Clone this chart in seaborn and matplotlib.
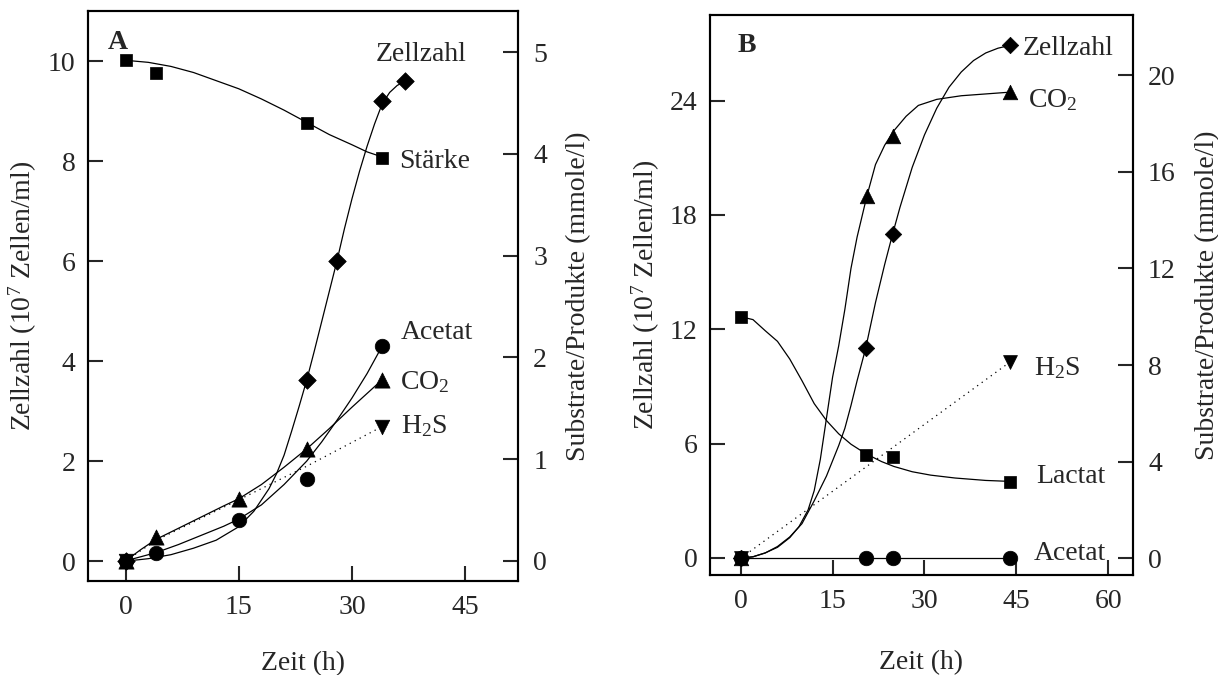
import matplotlib
matplotlib.use('Agg')
import matplotlib.pyplot as plt
import seaborn as sns

# ── Panel A (Stärke-Kultur) ─────────────────────────────────────────────
A_ZELL_T = [0, 24, 28, 34, 37]
A_ZELL = [0, 3.63, 6.0, 9.2, 9.6]
A_ZELL_CURVE_T = [0, 3, 6, 9, 12, 15, 17, 19, 20, 21, 22, 23, 24, 25, 26, 27, 28,
                  29, 30, 31, 32, 33, 34, 35, 36, 37]
A_ZELL_CURVE = [0, 0.05, 0.13, 0.26, 0.42, 0.69, 1.0, 1.45, 1.75, 2.12, 2.6, 3.1,
                3.62, 4.2, 4.8, 5.4, 6.0, 6.65, 7.25, 7.8, 8.3, 8.75, 9.15, 9.38,
                9.52, 9.6]

A_STAERKE_T = [0, 4, 24, 34]
A_STAERKE = [4.92, 4.80, 4.30, 3.96]
A_STAERKE_CURVE_T = [0, 3, 6, 9, 12, 15, 18, 21, 24, 27, 30, 32, 34]
A_STAERKE_CURVE = [4.92, 4.90, 4.86, 4.80, 4.72, 4.64, 4.54, 4.43, 4.31, 4.19,
                   4.09, 4.02, 3.97]

A_ACETAT_T = [0, 4, 15, 24, 34]
A_ACETAT = [0, 0.08, 0.40, 0.80, 2.11]
A_ACETAT_CURVE_T = [0, 2, 4, 7, 10, 13, 15, 18, 21, 24, 26, 28, 30, 32, 34]
A_ACETAT_CURVE = [0, 0.04, 0.08, 0.16, 0.25, 0.34, 0.41, 0.55, 0.75, 0.98, 1.17,
                  1.38, 1.6, 1.84, 2.11]

A_CO2_T = [0, 4, 15, 24, 34]
A_CO2 = [0, 0.23, 0.61, 1.10, 1.78]
A_CO2_CURVE_T = [0, 2, 4, 7, 10, 13, 15, 18, 21, 24, 27, 30, 34]
A_CO2_CURVE = [0, 0.11, 0.21, 0.32, 0.43, 0.54, 0.61, 0.75, 0.92, 1.10, 1.3,
               1.51, 1.78]

A_H2S_T = [0, 34]
A_H2S = [0, 1.32]
A_H2S_LINE_T = [0, 4, 15, 24, 34]
A_H2S_LINE = [0, 0.2, 0.6, 0.93, 1.32]

# ── Panel B (Lactat-Kultur) ─────────────────────────────────────────────
B_ZELL_T = [0, 20.4, 24.8, 44]
B_ZELL = [0, 11.0, 17.0, 26.9]
B_ZELL_CURVE_T = [0, 2, 4, 6, 8, 10, 12, 14, 16, 17, 18, 19, 20.4, 22, 23.5, 24.8,
                  26, 28, 30, 32, 34, 36, 38, 40, 42, 44]
B_ZELL_CURVE = [0, 0.06, 0.26, 0.6, 1.1, 1.8, 3.0, 4.3, 5.9, 6.8, 8.0, 9.3, 11.0,
                13.4, 15.4, 17.0, 18.4, 20.5, 22.2, 23.6, 24.7, 25.5, 26.1, 26.5,
                26.75, 26.9]

B_CO2_T = [0, 20.6, 24.8, 44]
B_CO2 = [0, 15.0, 17.5, 19.3]
B_CO2_CURVE_T = [0, 2, 4, 6, 8, 9.5, 11, 12, 13, 14, 15, 16, 17, 18, 19, 20.6, 22,
                 23.5, 25, 27, 29, 32, 36, 44]
B_CO2_CURVE = [0, 0.06, 0.22, 0.45, 0.85, 1.3, 2.0, 2.8, 4.1, 5.8, 7.5, 8.8, 10.3,
               12.0, 13.3, 15.0, 16.3, 17.1, 17.7, 18.3, 18.75, 19.0, 19.15, 19.3]

B_LACTAT_T = [0, 20.4, 24.9, 44]
B_LACTAT = [10.0, 4.27, 4.18, 3.16]
B_LACTAT_CURVE_T = [0, 2, 4, 6, 8, 10, 12, 14, 16, 18, 20.4, 23, 25, 28, 31, 35,
                    40, 44]
B_LACTAT_CURVE = [10.0, 9.88, 9.42, 8.98, 8.25, 7.35, 6.4, 5.7, 5.15, 4.72, 4.33,
                  4.0, 3.8, 3.58, 3.44, 3.32, 3.22, 3.18]

B_ACETAT_T = [0, 20.4, 24.9, 44]
B_ACETAT = [0, 0, 0, 0]

B_H2S_T = [0, 44]
B_H2S = [0, 8.13]

FS = 20
LW = 0.9


def setup_style():
    sns.set_theme(style='ticks')
    plt.rcParams.update({
        'font.family': ['Liberation Serif', 'DejaVu Serif'],
        'mathtext.fontset': 'custom',
        'mathtext.rm': 'Liberation Serif',
        'mathtext.it': 'Liberation Serif:italic',
        'mathtext.bf': 'Liberation Serif:bold',
        'font.size': FS, 'axes.labelsize': FS,
        'xtick.labelsize': FS, 'ytick.labelsize': FS,
        'xtick.direction': 'in', 'ytick.direction': 'in',
        'axes.linewidth': 1.5, 'axes.edgecolor': 'black',
        'figure.facecolor': 'white', 'axes.facecolor': 'white',
        'lines.solid_joinstyle': 'round',
    })


def curve(ax, t, y, dotted=False):
    sns.lineplot(x=t, y=y, ax=ax, color='black', lw=LW, sort=False,
                 estimator=None, zorder=3)
    if dotted:
        ax.lines[-1].set_linestyle((0, (1, 3.5)))


def points(ax, t, y, marker, s):
    sns.scatterplot(x=t, y=y, ax=ax, marker=marker, s=s, color='black',
                    edgecolor='black', linewidth=0.5, zorder=5, legend=False)


def style_axes(ax, ax2, xticks, yl, yr, xlim, ylim_l, ylim_r, xpad):
    ax.set_xlim(*xlim)
    ax.set_ylim(*ylim_l)
    ax2.set_ylim(*ylim_r)
    ax.set_xticks(xticks)
    ax.set_yticks(yl)
    ax2.set_yticks(yr)
    ax.tick_params(axis='x', direction='in', length=11, width=1.5, pad=10, top=False)
    ax.tick_params(axis='y', direction='in', length=11, width=1.5, pad=9, right=False)
    ax2.tick_params(axis='y', direction='in', length=11, width=1.5, pad=11)
    for a in (ax, ax2):
        for sp in a.spines.values():
            sp.set_visible(True)
            sp.set_linewidth(1.5)
    ax.set_xlabel('Zeit (h)', labelpad=xpad)
    ax.set_ylabel(r'Zellzahl (10$^{7}$ Zellen/ml)', labelpad=6)
    ax2.set_ylabel('Substrate/Produkte (mmole/l)', labelpad=14)


def label(ax, x, y, txt):
    ax.text(x, y, txt, ha='left', va='center_baseline', fontsize=FS, zorder=6)


def panel_a(fig):
    ax = fig.add_axes([0.0722, 0.139, 0.353, 0.844])
    ax2 = ax.twinx()
    curve(ax, A_ZELL_CURVE_T, A_ZELL_CURVE)
    curve(ax2, A_STAERKE_CURVE_T, A_STAERKE_CURVE)
    curve(ax2, A_ACETAT_CURVE_T, A_ACETAT_CURVE)
    curve(ax2, A_CO2_CURVE_T, A_CO2_CURVE)
    curve(ax2, A_H2S_LINE_T, A_H2S_LINE, dotted=True)
    points(ax, A_ZELL_T, A_ZELL, 'D', 80)
    points(ax2, A_STAERKE_T, A_STAERKE, 's', 75)
    points(ax2, A_ACETAT_T, A_ACETAT, 'o', 110)
    points(ax2, A_CO2_T, A_CO2, '^', 120)
    points(ax2, A_H2S_T, A_H2S, 'v', 110)
    style_axes(ax, ax2, [0, 15, 30, 45], [0, 2, 4, 6, 8, 10], [0, 1, 2, 3, 4, 5],
               (-5, 52), (-0.4, 11.0), (-0.2, 5.4), 22)
    label(ax, 33.2, 10.2, 'Zellzahl')
    label(ax2, 36.3, 3.95, 'Stärke')
    label(ax2, 36.5, 2.27, 'Acetat')
    label(ax2, 36.4, 1.79, r'CO$_2$')
    label(ax2, 36.5, 1.35, r'H$_2$S')
    ax.text(0.046, 0.946, 'A', transform=ax.transAxes, fontsize=FS,
            fontweight='bold', ha='left', va='center')


def panel_b(fig):
    ax = fig.add_axes([0.583, 0.148, 0.347, 0.830])
    ax2 = ax.twinx()
    curve(ax, B_ZELL_CURVE_T, B_ZELL_CURVE)
    curve(ax2, B_CO2_CURVE_T, B_CO2_CURVE)
    curve(ax2, B_LACTAT_CURVE_T, B_LACTAT_CURVE)
    curve(ax2, B_ACETAT_T, B_ACETAT)
    curve(ax2, B_H2S_T, B_H2S, dotted=True)
    points(ax, B_ZELL_T, B_ZELL, 'D', 70)
    points(ax2, B_CO2_T, B_CO2, '^', 110)
    points(ax2, B_LACTAT_T, B_LACTAT, 's', 70)
    points(ax2, B_ACETAT_T, B_ACETAT, 'o', 110)
    points(ax2, B_H2S_T, B_H2S, 'v', 100)
    style_axes(ax, ax2, [0, 15, 30, 45, 60], [0, 6, 12, 18, 24], [0, 4, 8, 12, 16, 20],
               (-5, 64), (-0.9, 28.5), (-0.7, 22.5), 26)
    label(ax, 46.1, 26.9, 'Zellzahl')
    label(ax2, 46.9, 19.1, r'CO$_2$')
    label(ax2, 47.9, 8.0, r'H$_2$S')
    label(ax2, 48.2, 3.5, 'Lactat')
    label(ax2, 47.9, 0.33, 'Acetat')
    ax.text(0.064, 0.946, 'B', transform=ax.transAxes, fontsize=FS,
            fontweight='bold', ha='left', va='center')


setup_style()
fig = plt.figure(figsize=(12.18, 6.75), dpi=100)
panel_a(fig)
panel_b(fig)
fig.savefig('out.png', dpi=100)
